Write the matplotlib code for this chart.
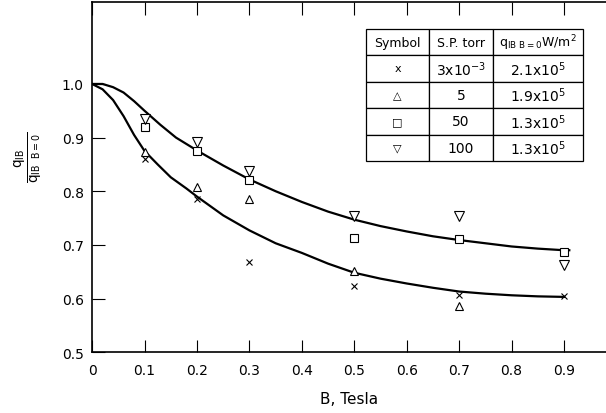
import numpy as np
import matplotlib
matplotlib.use("Agg")
import matplotlib.pyplot as plt

# measured points, B in Tesla, q_IB / q_IB(B=0)
b_pts = [0.1, 0.2, 0.3, 0.5, 0.7, 0.9]
q_cross = [0.860, 0.785, 0.668, 0.623, 0.606, 0.604]      # 3x10^-3 torr
b_tri = [0.1, 0.2, 0.3, 0.5, 0.7]
q_tri = [0.873, 0.808, 0.785, 0.651, 0.586]                # 5 torr
q_square = [0.920, 0.875, 0.821, 0.713, 0.711, 0.686]     # 50 torr
q_dtri = [0.935, 0.892, 0.838, 0.754, 0.754, 0.662]       # 100 torr

# hand-drawn fit curves
upper_b = [0, 0.02, 0.04, 0.06, 0.08, 0.1, 0.13, 0.16, 0.2, 0.25, 0.3, 0.35,
           0.4, 0.45, 0.5, 0.55, 0.6, 0.65, 0.7, 0.75, 0.8, 0.85, 0.9, 0.91]
upper_q = [1.0, 1.0, 0.994, 0.984, 0.968, 0.95, 0.924, 0.90, 0.876, 0.848,
           0.822, 0.80, 0.78, 0.762, 0.747, 0.735, 0.725, 0.716, 0.709, 0.703,
           0.697, 0.693, 0.690, 0.690]
lower_b = [0, 0.02, 0.04, 0.06, 0.08, 0.1, 0.125, 0.15, 0.18, 0.2, 0.25, 0.3,
           0.35, 0.4, 0.45, 0.5, 0.55, 0.6, 0.65, 0.7, 0.75, 0.8, 0.85, 0.9]
lower_q = [1.0, 0.99, 0.97, 0.94, 0.905, 0.875, 0.85, 0.826, 0.805, 0.79,
           0.755, 0.727, 0.703, 0.685, 0.665, 0.648, 0.637, 0.628, 0.62, 0.613,
           0.609, 0.606, 0.604, 0.603]

# table contents
col_labels = ["Symbol", "S.P. torr", r"q$_{\rm IB\ B=0}$W/m$^2$"]
symbols = ["x", "\u25b3", "\u25a1", "\u25bd"]
pressures = [r"3x10$^{-3}$", "5", "50", "100"]
q_zero = [r"2.1x10$^5$", r"1.9x10$^5$", r"1.3x10$^5$", r"1.3x10$^5$"]

plt.rcParams['font.family'] = ['DejaVu Sans']
fig = plt.figure(figsize=(6.06, 4.14), dpi=100)
ax = fig.add_axes([0.152, 0.147, 0.848, 0.846])

ax.plot(upper_b, upper_q, color='black', lw=1.6)
ax.plot(lower_b, lower_q, color='black', lw=1.6)

ax.plot(b_pts, q_cross, 'x', color='black', ms=5, mew=0.8, ls='none')
ax.plot(b_tri, q_tri, '^', mfc='white', mec='black', ms=6, mew=0.8, ls='none')
ax.plot(b_pts, q_square, 's', mfc='white', mec='black', ms=6, mew=0.8, ls='none')
ax.plot(b_pts, q_dtri, 'v', mfc='white', mec='black', ms=7, mew=0.8, ls='none')

ax.set_xlim(0, 0.98)
ax.set_ylim(0.5, 1.153)
ax.set_xticks(np.arange(0, 1.0, 0.1))
ax.set_xticklabels(["0", "0.1", "0.2", "0.3", "0.4", "0.5", "0.6", "0.7", "0.8", "0.9"])
ax.set_yticks([0.5, 0.6, 0.7, 0.8, 0.9, 1.0])
ax.set_yticklabels(["0.5", "0.6", "0.7", "0.8", "0.9", "1.0"])
ax.tick_params(axis='both', direction='in', length=9, width=0.8, labelsize=10,
               top=True, right=False)
ax.tick_params(axis='x', pad=8)
ax.tick_params(axis='y', pad=6)
ax.spines['right'].set_visible(False)
for s in ['left', 'bottom', 'top']:
    ax.spines[s].set_linewidth(1.2)

ax.set_xlabel("B, Tesla", fontsize=11, labelpad=10)
fig.text(0.048, 0.62, r"$\frac{\mathrm{q}_{\rm IB}}{\mathrm{q}_{\rm IB\ \ B=0}}$",
         rotation=90, fontsize=14, ha='center', va='center')

cells = [[symbols[i], pressures[i], q_zero[i]] for i in range(len(symbols))]
tab = ax.table(cellText=cells, colLabels=col_labels, cellLoc='center',
               bbox=[0.533, 0.546, 0.422, 0.377],
               colWidths=[63, 64, 90])
tab.auto_set_font_size(False)
for (r, c), cell in tab.get_celld().items():
    cell.set_linewidth(0.9)
    cell.set_edgecolor('black')
    txt = cell.get_text()
    if c == 0 and r > 0:
        txt.set_fontsize(8)
    else:
        txt.set_fontsize(10 if r > 0 else 9)

fig.savefig("out.png", dpi=100)
